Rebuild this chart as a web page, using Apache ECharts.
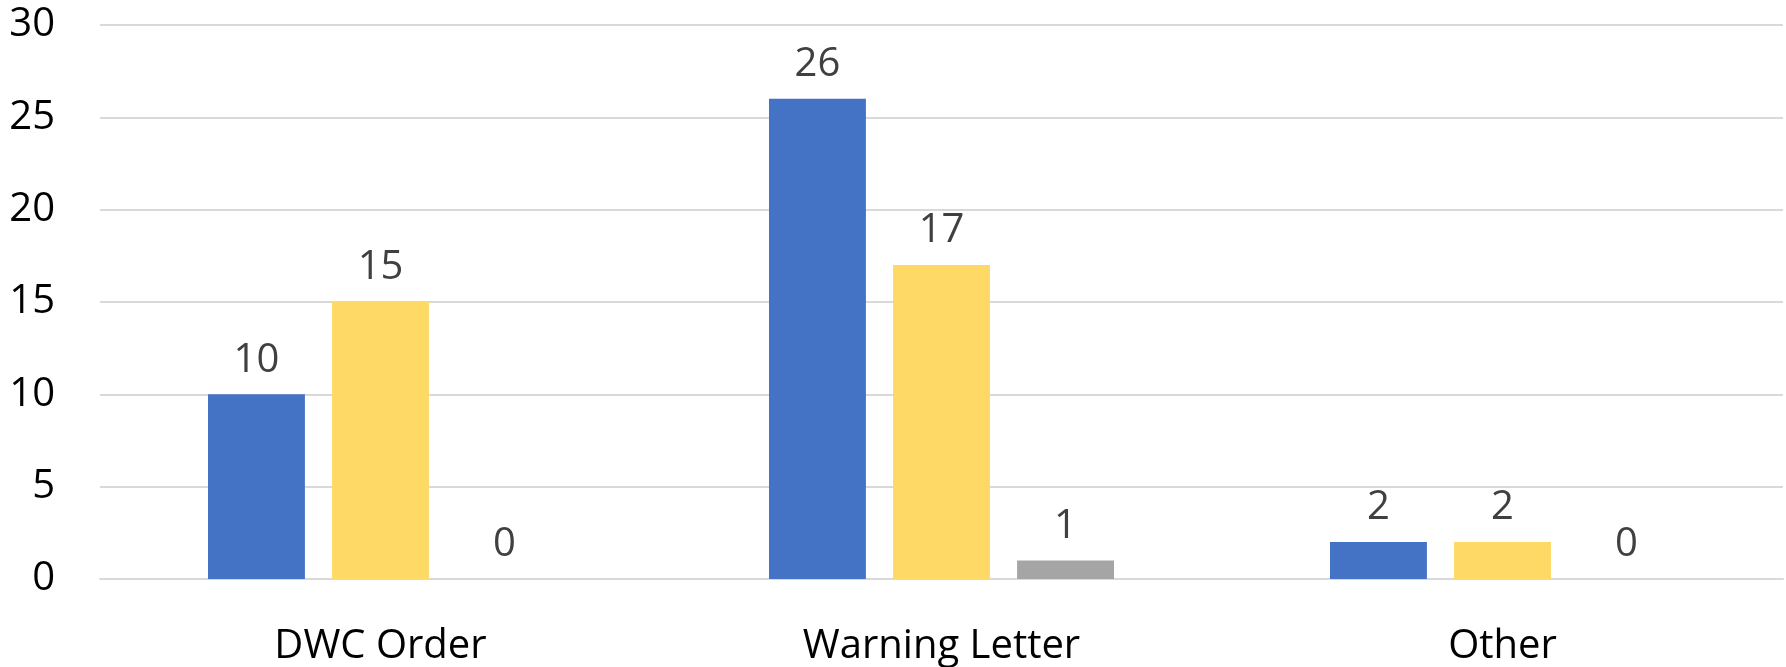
<!DOCTYPE html>
<html>
<head>
<meta charset="utf-8">
<script src="https://cdn.jsdelivr.net/npm/echarts@6/dist/echarts.min.js"></script>
<style>
html,body{margin:0;padding:0;background:#fff;}
#chart{width:1786px;height:667px;}
</style>
</head>
<body>
<div id="chart"></div>
<script>
const categories = ['DWC Order', 'Warning Letter', 'Other'];
const series1 = [10, 26, 2];
const series2 = [15, 17, 2];
const series3 = [0, 1, 0];
const yTicks = [0, 5, 10, 15, 20, 25, 30];

const chart = echarts.init(document.getElementById('chart'));
const font = '"Open Sans", "Noto Sans", sans-serif';
const labelCfg = {
  show: true, position: 'top', distance: 14,
  color: '#404040', fontSize: 40, fontFamily: font
};
chart.setOption({
  animation: false,
  grid: { left: 100, right: 3, top: 25, bottom: 85, containLabel: false },
  xAxis: {
    type: 'category', data: categories,
    axisLine: { show: true, lineStyle: { color: '#d9d9d9', width: 2 } },
    axisTick: { show: false },
    axisLabel: { color: '#000', fontSize: 40, fontFamily: font, margin: 48 }
  },
  yAxis: {
    type: 'value', min: yTicks[0], max: yTicks[yTicks.length - 1], interval: 5,
    axisLine: { show: false }, axisTick: { show: false },
    axisLabel: { color: '#000', fontSize: 40, fontFamily: font, margin: 45 },
    splitLine: { lineStyle: { color: '#d9d9d9', width: 2 } }
  },
  series: [
    { name: 'Series 1', type: 'bar', data: series1, itemStyle: { color: '#4472C4' }, label: labelCfg, barGap: '28%', barCategoryGap: '38.5%' },
    { name: 'Series 2', type: 'bar', data: series2, itemStyle: { color: '#FFD966' }, label: labelCfg, barGap: '28%', barCategoryGap: '38.5%' },
    { name: 'Series 3', type: 'bar', data: series3, itemStyle: { color: '#A5A5A5' }, label: labelCfg, barGap: '28%', barCategoryGap: '38.5%' }
  ]
});
</script>
</body>
</html>
